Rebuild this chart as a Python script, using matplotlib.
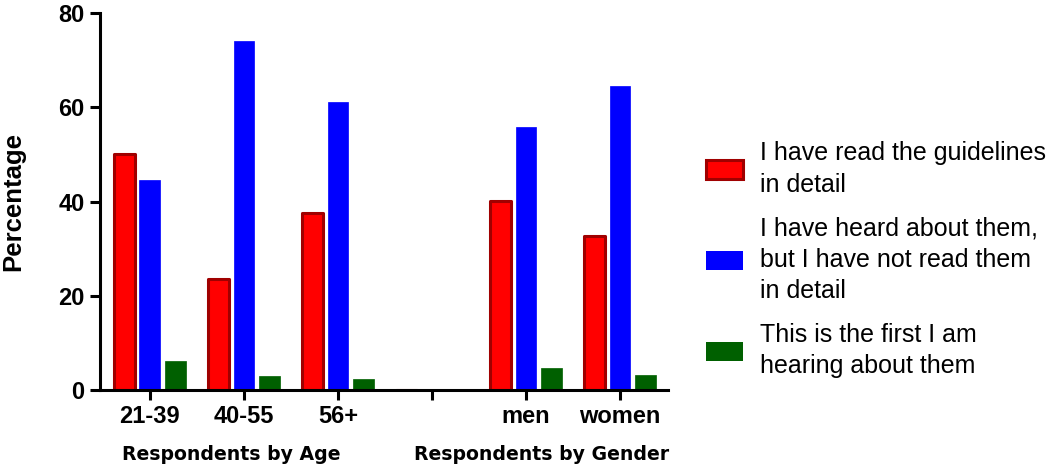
import numpy as np
import matplotlib
matplotlib.use("Agg")
import matplotlib.pyplot as plt
from matplotlib.patches import Patch

categories = ["21-39", "40-55", "56+", "", "men", "women"]
read_detail = [50.2, 23.5, 37.5, 0, 40.2, 32.8]
heard_not_read = [44.5, 74.0, 61.1, 0, 55.8, 64.6]
first_hearing = [6.1, 3.0, 2.3, 0, 4.6, 3.2]
labels = ["I have read the guidelines\nin detail",
          "I have heard about them,\nbut I have not read them\nin detail",
          "This is the first I am\nhearing about them"]
group_labels = ["Respondents by Age", "Respondents by Gender"]

plt.rcParams['font.family'] = ['Liberation Sans', 'DejaVu Sans']

fig = plt.figure(figsize=(10.5, 4.7), dpi=100)
ax = fig.add_axes([0.0952, 0.170, 0.541, 0.802])

x = np.arange(len(categories))
w = 0.22
step = 0.27
ax.bar(x - step, read_detail, w, color="#ff0000", edgecolor="#a00000", linewidth=2.2,
       joinstyle="round")
ax.bar(x, heard_not_read, w, color="#0000ff", edgecolor="#0000ff", linewidth=0.5)
ax.bar(x + step, first_hearing, w, color="#006000", edgecolor="#006000", linewidth=0.5)

ax.set_xlim(-0.53, 5.51)
ax.set_ylim(0, 80)
ax.set_yticks([0, 20, 40, 60, 80])
ax.set_xticks(x)
ax.set_xticklabels(categories)
for s in ["top", "right"]:
    ax.spines[s].set_visible(False)
for s in ["left", "bottom"]:
    ax.spines[s].set_linewidth(2.2)
ax.tick_params(width=2.2, length=7, labelsize=17, pad=4)
for t in ax.get_xticklabels() + ax.get_yticklabels():
    t.set_fontweight("bold")
ax.set_ylabel("Percentage", fontsize=18.5, fontweight="bold", labelpad=24)

ax.text(0.232, -0.172, group_labels[0], transform=ax.transAxes, ha="center", va="center",
        fontsize=13.6, fontweight="bold", family="DejaVu Sans")
ax.text(0.778, -0.172, group_labels[1], transform=ax.transAxes, ha="center", va="center",
        fontsize=13.6, fontweight="bold", family="DejaVu Sans")

handles = [Patch(facecolor="#ff0000", edgecolor="#a00000", linewidth=2.2),
           Patch(facecolor="#0000ff"),
           Patch(facecolor="#006000")]
leg = fig.legend(handles, labels, loc="center left", bbox_to_anchor=(0.651, 0.447),
                 frameon=False, fontsize=18, handlelength=1.48, handleheight=0.8,
                 handletextpad=0.68, labelspacing=0.8)
for t in leg.get_texts():
    t.set_linespacing(1.38)

fig.savefig("out.png", dpi=100)
